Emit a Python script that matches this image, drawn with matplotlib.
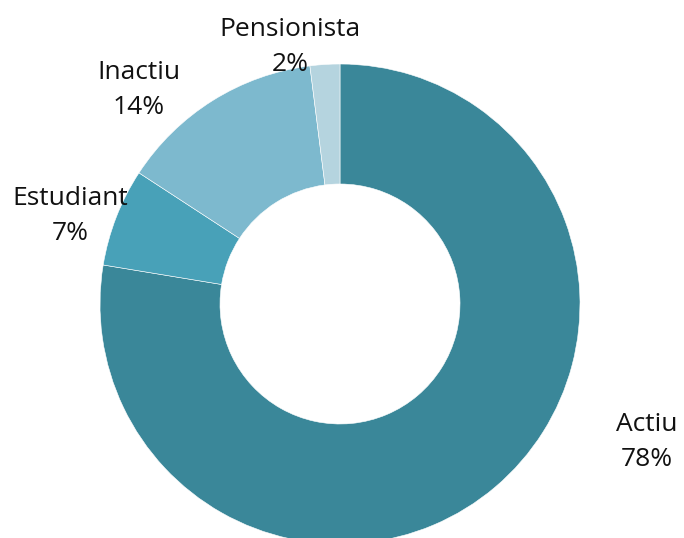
import matplotlib.pyplot as plt

# Data
labels = ['Actiu', 'Estudiant', 'Inactiu', 'Pensionista']
values = [77.6, 6.6, 13.8, 2.0]
colors = ['#3a8799', '#48a1b8', '#7db9ce', '#b5d4df']

# label positions (data units, radius = 1)
label_pos = [(1.279, -0.575), (-1.125, 0.367), (-0.8375, 0.892), (-0.208, 1.071)]

plt.rcParams['font.family'] = ['Open Sans', 'DejaVu Sans']

fig = plt.figure(figsize=(6.84, 5.38), dpi=100)
ax = fig.add_axes([0, 0, 1, 1])

ax.pie(values, colors=colors, startangle=90, counterclock=False,
       radius=1.0, wedgeprops=dict(width=0.5, edgecolor='white', linewidth=0.4))

for lab, v, (x, y) in zip(labels, values, label_pos):
    ax.text(x, y, f"{lab}\n{v:.0f}%", ha='center', va='center',
            fontsize=19, linespacing=1.5, color='#111111')

ax.set_xlim(-340 / 240, 344 / 240)
ax.set_ylim(-234 / 240, 304 / 240)
ax.set_aspect('equal')
ax.axis('off')

fig.savefig('out.png', dpi=100)
